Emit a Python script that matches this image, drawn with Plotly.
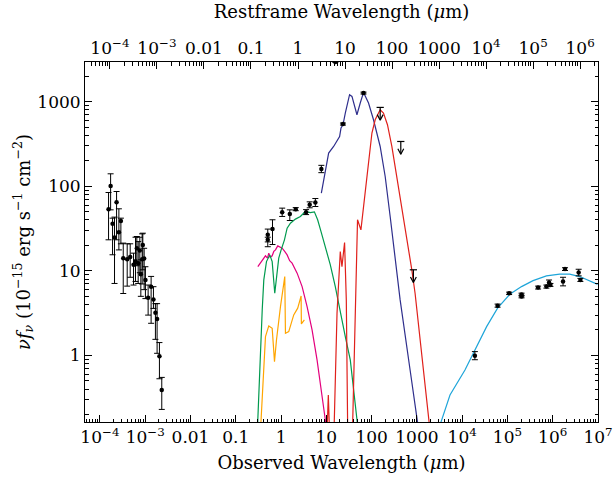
import plotly.graph_objects as go
import numpy as np

# ---------------- data points ----------------
# X-ray points (observed wavelength in micron, nu f_nu)
xray_wl = [1.55e-4, 1.72e-4, 1.90e-4, 2.10e-4, 2.33e-4, 2.62e-4, 2.90e-4, 3.27e-4, 4.00e-4,
           4.66e-4, 5.52e-4, 6.11e-4, 6.53e-4, 6.99e-4, 7.60e-4, 8.00e-4, 8.56e-4, 8.85e-4,
           9.47e-4, 1.01e-3, 1.16e-3, 1.35e-3, 1.52e-3, 1.68e-3, 1.83e-3, 2.06e-3, 2.32e-3]
xray_f = [53.7, 101, 36, 24.8, 65, 28.7, 39, 14.1, 13.7, 14.6, 11.8, 13.0, 18.5, 12.3, 17.4,
          9.1, 13.7, 20.3, 14.0, 7.8, 4.8, 6.5, 4.6, 3.2, 2.7, 0.98, 0.39]
xray_hi = [84.5, 140.6, 42, 43.2, 86.8, 54.2, 42, 21.3, 20.9, 20.9, 16.2, 25, 25.5, 22.2, 25,
           13.5, 27.4, 27.9, 18.5, 11.2, 6.8, 8.6, 6.5, 4.1, 4.1, 1.42, 0.55]
xray_lo = [23.3, 52.7, 15.5, 7.1, 23.3, 17.7, 20.9, 5.4, 6.6, 8.4, 6.8, 7.5, 11.5, 7.1, 9.5,
           5.0, 7.0, 10.3, 6.0, 4.7, 3.0, 2.4, 3.6, 1.55, 1.06, 0.53, 0.23]

# optical / infrared points
ir_wl = [0.509, 0.509, 0.647, 1.06, 1.56, 2.11, 3.57, 4.29, 5.72, 7.76, 23.3, 66.3, 15.8]
ir_f = [26.7, 23.3, 31.2, 49.5, 46.9, 53.7, 49.5, 60.4, 64.3, 160, 545, 1267, 2950]
ir_hi = [31.2, 25.0, 40.2, 55.2, 52.7, 56.0, 53.0, 65.5, 71.7, 177, 560, 1300, 2950]
ir_lo = [22.0, 19.3, 20.5, 44.0, 39.4, 51.5, 46.3, 55.7, 57.7, 145, 530, 1235, 2950]

# upper limits (far-IR / submm)
lim_wl = [154.7, 441, 837]
lim_f = [857, 339, 10.3]

# radio points
radio_wl = [1.91e4, 6.06e4, 1.09e5, 2.05e5, 2.05e5, 4.75e5, 7.26e5, 8.3e5, 8.9e5,
            1.69e6, 1.87e6, 3.74e6, 4.08e6]
radio_f = [0.995, 3.88, 5.44, 5.25, 4.97, 6.34, 6.52, 7.27, 6.83, 7.47, 10.5, 9.55, 7.82]
radio_hi = [1.11, 4.05, 5.6, 5.45, 5.15, 6.6, 6.8, 7.8, 7.1, 8.4, 10.9, 10.45, 8.15]
radio_lo = [0.89, 3.72, 5.25, 5.05, 4.8, 6.1, 6.25, 6.8, 6.55, 6.65, 10.1, 8.73, 7.5]

# ---------------- model curves (log10 wavelength, log10 nu f_nu) ----------------
orange_lx = [-0.465, -0.394, -0.344, -0.271, -0.196, -0.145, -0.101, -0.013, 0.082, 0.097,
             0.170, 0.280, 0.368, 0.443, 0.449, 0.515]
orange_ly = [-1.0, -0.290, 0.222, 0.349, 0.322, -0.073, 0.183, 0.578, 0.933, 0.263,
             0.282, 0.479, 0.559, 0.704, 0.373, 0.420]

magenta_lx = [-0.513, -0.416, -0.344, -0.300, -0.271, -0.240, -0.196, -0.160, -0.123, -0.073,
              -0.030, 0.024, 0.080, 0.134, 0.190, 0.244, 0.355, 0.465, 0.575, 0.685, 0.795,
              0.905, 0.978, 1.022]
magenta_ly = [1.051, 1.130, 1.178, 1.150, 1.209, 1.160, 1.178, 1.230, 1.249, 1.296,
              1.280, 1.269, 1.230, 1.189, 1.120, 1.091, 0.973, 0.814, 0.578, 0.302, -0.053,
              -0.447, -0.763, -1.0]

green_lx = [-0.531, -0.482, -0.454, -0.416, -0.381, -0.322, -0.249, -0.196, -0.139, -0.101,
            -0.051, 0.002, 0.075, 0.134, 0.207, 0.317, 0.427, 0.537, 0.648, 0.736, 0.808,
            0.883, 0.978, 1.088, 1.198, 1.308, 1.419, 1.529, 1.683, 1.727]
green_ly = [-1.0, -0.290, 0.183, 0.538, 0.893, 1.110, 1.189, 1.110, 0.736, 0.933,
            1.150, 1.249, 1.367, 1.505, 1.564, 1.612, 1.643, 1.702, 1.690, 1.698, 1.604,
            1.465, 1.288, 1.071, 0.814, 0.499, 0.222, -0.053, -0.787, -1.0]

navy_lx = [0.890, 1.051, 1.161, 1.293, 1.324, 1.368, 1.419, 1.513, 1.566, 1.676, 1.749,
           1.822, 1.932, 2.042, 2.189, 2.300, 2.410, 2.520, 2.630, 2.850, 3.026, 3.070]
navy_ly = [1.920, 2.393, 2.471, 2.589, 2.689, 2.728, 2.866, 3.083, 3.063, 2.846, 2.985,
           3.110, 2.985, 2.787, 2.471, 2.116, 1.643, 1.130, 0.657, -0.172, -0.787, -1.0]

red_lx = [1.011, 1.044, 1.077, None, 1.165, 1.236, 1.308, 1.345, 1.403, 1.441, 1.474, None,
          1.573, 1.639, 1.689, 1.764, 1.859, 1.932, 2.007, 2.079, 2.189, 2.262, 2.350,
          2.447, 2.557, 2.667, 2.778, 2.888, 2.960, 3.070, 3.181, 3.269, 3.313]
red_ly = [-1.0, -0.467, -1.0, None, -1.0, 0.499, 1.228, 1.051, 1.335, 0.657, -1.0, None,
          -1.0, 0.657, 1.604, 1.485, 1.920, 2.314, 2.630, 2.787, 2.905, 2.866, 2.728,
          2.471, 2.116, 1.722, 1.367, 1.012, 0.736, 0.183, -0.349, -0.787, -1.0]

cyan_lx = [3.401, 3.731, 4.062, 4.282, 4.540, 4.782, 5.053, 5.311, 5.566, 5.861, 6.154,
           6.374, 6.595, 6.991]
cyan_ly = [-1.0, -0.467, -0.172, 0.065, 0.341, 0.559, 0.724, 0.814, 0.885, 0.941, 0.961,
           0.961, 0.933, 0.840]

# tick labels
bottom_vals = [1e-4, 1e-3, 1e-2, 1e-1, 1, 10, 100, 1000, 1e4, 1e5, 1e6, 1e7]
bottom_text = ["10<sup>−4</sup>", "10<sup>−3</sup>", "0.01", "0.1", "1", "10", "100", "1000",
               "10<sup>4</sup>", "10<sup>5</sup>", "10<sup>6</sup>", "10<sup>7</sup>"]
top_vals = [1e-4, 1e-3, 1e-2, 1e-1, 1, 10, 100, 1000, 1e4, 1e5, 1e6]
top_text = ["10<sup>−4</sup>", "10<sup>−3</sup>", "0.01", "0.1", "1", "10", "100", "1000",
            "10<sup>4</sup>", "10<sup>5</sup>", "10<sup>6</sup>"]
y_vals = [1, 10, 100, 1000]
y_text = ["1", "10", "100", "1000"]

FONT = "DejaVu Serif"


def tolin(a):
    return [None if v is None else 10 ** v for v in a]


def minor_vals(d0, d1):
    return [k * 10.0 ** d for d in range(d0, d1) for k in range(2, 10)]


fig = go.Figure()

curve_styles = [
    (orange_lx, orange_ly, "#FFA500"),
    (magenta_lx, magenta_ly, "#E3007D"),
    (green_lx, green_ly, "#009A4E"),
    (navy_lx, navy_ly, "#2E2E8C"),
    (red_lx, red_ly, "#E0201B"),
    (cyan_lx, cyan_ly, "#1EA5D9"),
]
for lx, ly, col in curve_styles:
    fig.add_trace(go.Scatter(x=tolin(lx), y=tolin(ly), mode="lines",
                             line=dict(color=col, width=1.2), showlegend=False,
                             hoverinfo="skip", connectgaps=False))


def add_points(wl, f, hi, lo):
    fig.add_trace(go.Scatter(
        x=wl, y=f, mode="markers",
        marker=dict(color="black", size=4.5, symbol="circle"),
        error_y=dict(type="data", symmetric=False,
                     array=[h - v for h, v in zip(hi, f)],
                     arrayminus=[v - l for v, l in zip(f, lo)],
                     color="black", thickness=1, width=3),
        showlegend=False))


add_points(xray_wl, xray_f, xray_hi, xray_lo)
add_points(ir_wl, ir_f, ir_hi, ir_lo)
add_points(radio_wl, radio_f, radio_hi, radio_lo)

# upper-limit symbols built from the limit values
ux, uy = [], []
for w, f in zip(lim_wl, lim_f):
    tip = f * 10 ** -0.15
    ux += [w * 10 ** -0.08, w * 10 ** 0.08, None]
    uy += [f, f, None]
    ux += [w, w, None]
    uy += [f, tip, None]
    ux += [w * 10 ** -0.065, w, w * 10 ** 0.065, None]
    uy += [tip * 10 ** 0.065, tip, tip * 10 ** 0.065, None]
fig.add_trace(go.Scatter(x=ux, y=uy, mode="lines", line=dict(color="black", width=1.2),
                         showlegend=False, hoverinfo="skip"))

# invisible trace to activate the top (restframe) axis
fig.add_trace(go.Scatter(x=[1], y=[1], xaxis="x2", mode="markers",
                         marker=dict(opacity=0), showlegend=False, hoverinfo="skip"))

x_range = [-4.33, 7.0]          # observed wavelength, log10
x2_range = [-4.53, 6.38]        # restframe wavelength as drawn on the top axis, log10

axis_common = dict(type="log", showline=True, linecolor="black", linewidth=1,
                   ticks="inside", ticklen=7, tickcolor="black", tickwidth=1,
                   showgrid=False, zeroline=False, automargin=False,
                   tickfont=dict(family=FONT, size=17, color="black"))

fig.update_layout(
    width=613, height=477,
    margin=dict(l=85, r=15, t=62, b=55, autoexpand=False),
    paper_bgcolor="white", plot_bgcolor="white",
    font=dict(family=FONT, color="black"),
    xaxis=dict(**axis_common, range=x_range, tickmode="array", tickvals=bottom_vals,
               ticktext=bottom_text, mirror=False,
               minor=dict(tickmode="array", tickvals=minor_vals(-5, 7), ticks="inside",
                          ticklen=3.5, tickcolor="black", showgrid=False),
               title=dict(text="Observed Wavelength (<i>μ</i>m)",
                          font=dict(family=FONT, size=18), standoff=9)),
    xaxis2=dict(**axis_common, range=x2_range, overlaying="x",
                side="top", anchor="y", tickmode="array", tickvals=top_vals,
                ticktext=top_text,
                minor=dict(tickmode="array", tickvals=minor_vals(-5, 7), ticks="inside",
                           ticklen=3.5, tickcolor="black", showgrid=False),
                title=dict(text="Restframe Wavelength (<i>μ</i>m)",
                           font=dict(family=FONT, size=18), standoff=12)),
    yaxis=dict(**axis_common, range=[-0.787, 3.47], tickmode="array", tickvals=y_vals,
               ticktext=y_text, mirror="ticks",
               minor=dict(tickmode="array", tickvals=minor_vals(-1, 4), ticks="inside",
                          ticklen=3.5, tickcolor="black", showgrid=False),
               title=dict(text="<i>ν</i><i>f</i><sub><i>ν</i></sub> (10<sup>−15</sup> erg s<sup>−1</sup> cm<sup>−2</sup>)",
                          font=dict(family=FONT, size=18), standoff=2)),
)

fig.write_html("out.html")
